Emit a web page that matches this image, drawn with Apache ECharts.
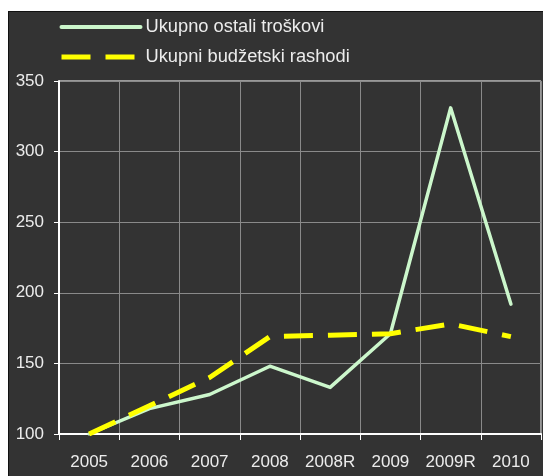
<!DOCTYPE html>
<html>
<head>
<meta charset="utf-8">
<script src="https://cdn.jsdelivr.net/npm/echarts@6/dist/echarts.min.js"></script>
<style>
html,body{margin:0;padding:0;background:#fff;}
#wrap{position:relative;width:543px;height:476px;overflow:hidden;}
#panel{position:absolute;left:8px;top:11px;width:600px;height:500px;background:#333333;border:1px solid #111;}
#chart{position:absolute;left:0;top:0;width:543px;height:476px;}
</style>
</head>
<body>
<div id="wrap"><div id="panel"></div><div id="chart"></div></div>
<script>
const categories = ['2005','2006','2007','2008','2008R','2009','2009R','2010'];
const ostaliTroskovi = [100, 118, 128, 148, 133, 171, 331, 192];
const budzetskiRashodi = [100, 120, 140, 169, 170, 171, 178, 169];
const seriesNames = ['Ukupno ostali troškovi', 'Ukupni budžetski rashodi'];

const chart = echarts.init(document.getElementById('chart'), null, {renderer:'canvas'});
const font = 'Arial, "Liberation Sans", sans-serif';
chart.setOption({
  animation: false,
  backgroundColor: 'transparent',
  legend: {
    orient: 'vertical',
    left: 59, top: 18, padding: 0,
    itemWidth: 79, itemHeight: 14, itemGap: 12,
    itemStyle: {opacity: 0},
    textStyle: {color: '#ececec', fontSize: 18.3, lineHeight: 14, fontFamily: font},
    data: [
      {name: seriesNames[0], lineStyle: {width: 4, color: '#ccf7cc', cap: 'round'}},
      {name: seriesNames[1], lineStyle: {width: 5, color: '#ffff00', type: [29, 15]}}
    ]
  },
  grid: {left: 59, top: 81, right: 2, bottom: 42, show: true, borderColor: '#ffffff', borderWidth: 1},
  xAxis: {
    type: 'category', data: categories, boundaryGap: true,
    axisLine: {lineStyle: {color: '#ffffff', width: 2}},
    axisTick: {show: true, interval: 0, length: 6, lineStyle: {color: '#ffffff'}},
    splitLine: {show: true, interval: 0, lineStyle: {color: '#8a8a8a', width: 1}},
    axisLabel: {color: '#ececec', fontSize: 17, fontFamily: font, margin: 20, interval: 0}
  },
  yAxis: {
    type: 'value', min: 100, max: 350, interval: 50,
    axisLine: {show: true, lineStyle: {color: '#ffffff', width: 2}},
    axisTick: {show: true, length: 5, lineStyle: {color: '#ffffff'}},
    splitLine: {show: true, lineStyle: {color: '#8a8a8a', width: 1}},
    axisLabel: {color: '#ececec', fontSize: 17, fontFamily: font, margin: 15}
  },
  series: [
    {
      name: seriesNames[0], type: 'line', data: ostaliTroskovi,
      symbol: 'none', z: 3,
      lineStyle: {color: '#ccf7cc', width: 3.5, cap: 'round', join: 'round'},
      itemStyle: {color: '#ccf7cc'}
    },
    {
      name: seriesNames[1], type: 'line', data: budzetskiRashodi,
      symbol: 'none', z: 4,
      lineStyle: {color: '#ffff00', width: 5, type: [29, 15], cap: 'butt'},
      itemStyle: {color: '#ffff00'}
    }
  ]
});
</script>
</body>
</html>
